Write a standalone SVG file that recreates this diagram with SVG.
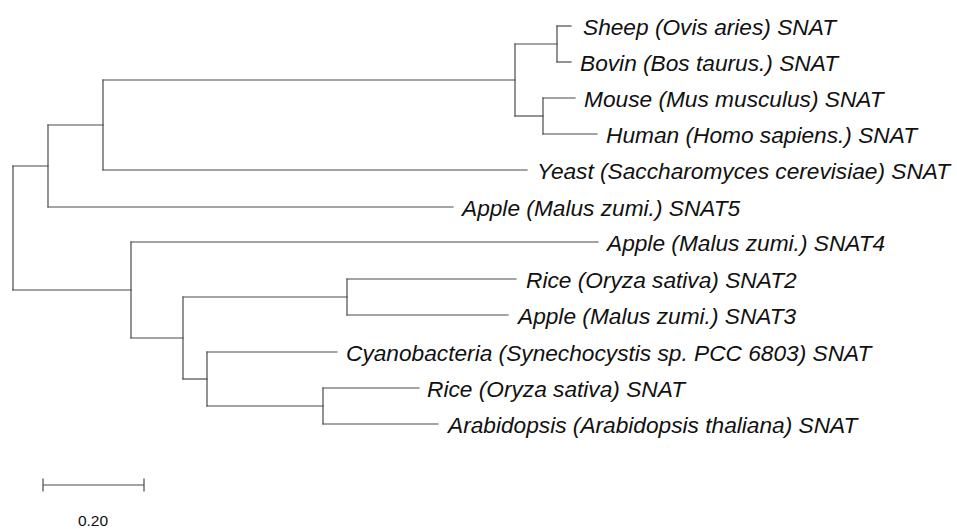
<svg xmlns="http://www.w3.org/2000/svg" width="957" height="529" viewBox="0 0 957 529">
  <style>
    .br { fill: none; stroke: #4a4a4a; stroke-width: 1.2; stroke-linecap: square; }
    .lab { font-family: "Liberation Sans", Arial, sans-serif; font-style: italic; font-size: 22.7px; fill: #111; }
    .scale { font-family: "Liberation Sans", Arial, sans-serif; font-size: 15.5px; fill: #111; }
  </style>
  <rect width="957" height="529" fill="#fff"/>

  <!-- branches of the tree (rectangular cladogram) -->
  <g id="branches" class="br">
    <!-- root -->
    <path d="M13 166 V290"/>
    <path d="M13 166 H48"/>
    <path d="M13 290 H131"/>
    <!-- animal / yeast / SNAT5 clade -->
    <path d="M48 125 V207"/>
    <path d="M48 125 H103"/>
    <path d="M48 207 H453"/>
    <path d="M103 80 V170"/>
    <path d="M103 80 H515"/>
    <path d="M103 170 H527"/>
    <path d="M515 44 V116"/>
    <path d="M515 44 H557"/>
    <path d="M515 116 H543"/>
    <path d="M557 26 V62"/>
    <path d="M557 26 H571"/>
    <path d="M557 62 H571"/>
    <path d="M543 98 V134"/>
    <path d="M543 98 H575"/>
    <path d="M543 134 H597"/>
    <!-- plant / cyanobacteria clade -->
    <path d="M131 242 V338"/>
    <path d="M131 242 H598"/>
    <path d="M131 338 H183"/>
    <path d="M183 297 V379"/>
    <path d="M183 297 H347"/>
    <path d="M183 379 H207"/>
    <path d="M347 279 V315"/>
    <path d="M347 279 H516"/>
    <path d="M347 315 H508"/>
    <path d="M207 352 V406"/>
    <path d="M207 352 H337"/>
    <path d="M207 406 H323"/>
    <path d="M323 388 V424"/>
    <path d="M323 388 H419"/>
    <path d="M323 424 H438"/>
  </g>

  <!-- leaf labels -->
  <g id="sheep"><text class="lab" x="583" y="35">Sheep (Ovis aries) SNAT</text></g>
  <g id="bovin"><text class="lab" x="580" y="71">Bovin (Bos taurus.) SNAT</text></g>
  <g id="mouse"><text class="lab" x="584" y="107">Mouse (Mus musculus) SNAT</text></g>
  <g id="human"><text class="lab" x="606" y="143">Human (Homo sapiens.) SNAT</text></g>
  <g id="yeast"><text class="lab" x="537" y="179">Yeast (Saccharomyces cerevisiae) SNAT</text></g>
  <g id="apple-snat5"><text class="lab" x="462" y="216">Apple (Malus zumi.) SNAT5</text></g>
  <g id="apple-snat4"><text class="lab" x="607" y="251">Apple (Malus zumi.) SNAT4</text></g>
  <g id="rice-snat2"><text class="lab" x="526" y="288">Rice (Oryza sativa) SNAT2</text></g>
  <g id="apple-snat3"><text class="lab" x="518" y="324">Apple (Malus zumi.) SNAT3</text></g>
  <g id="cyanobacteria"><text class="lab" x="346" y="361">Cyanobacteria (Synechocystis sp. PCC 6803) SNAT</text></g>
  <g id="rice-snat"><text class="lab" x="427" y="397">Rice (Oryza sativa) SNAT</text></g>
  <g id="arabidopsis"><text class="lab" x="448" y="433">Arabidopsis (Arabidopsis thaliana) SNAT</text></g>

  <!-- scale bar -->
  <g id="scale-bar">
    <path class="br" d="M43 485 H144 M43 479 V491 M144 479 V491"/>
    <text class="scale" x="93" y="526" text-anchor="middle">0.20</text>
  </g>
</svg>
